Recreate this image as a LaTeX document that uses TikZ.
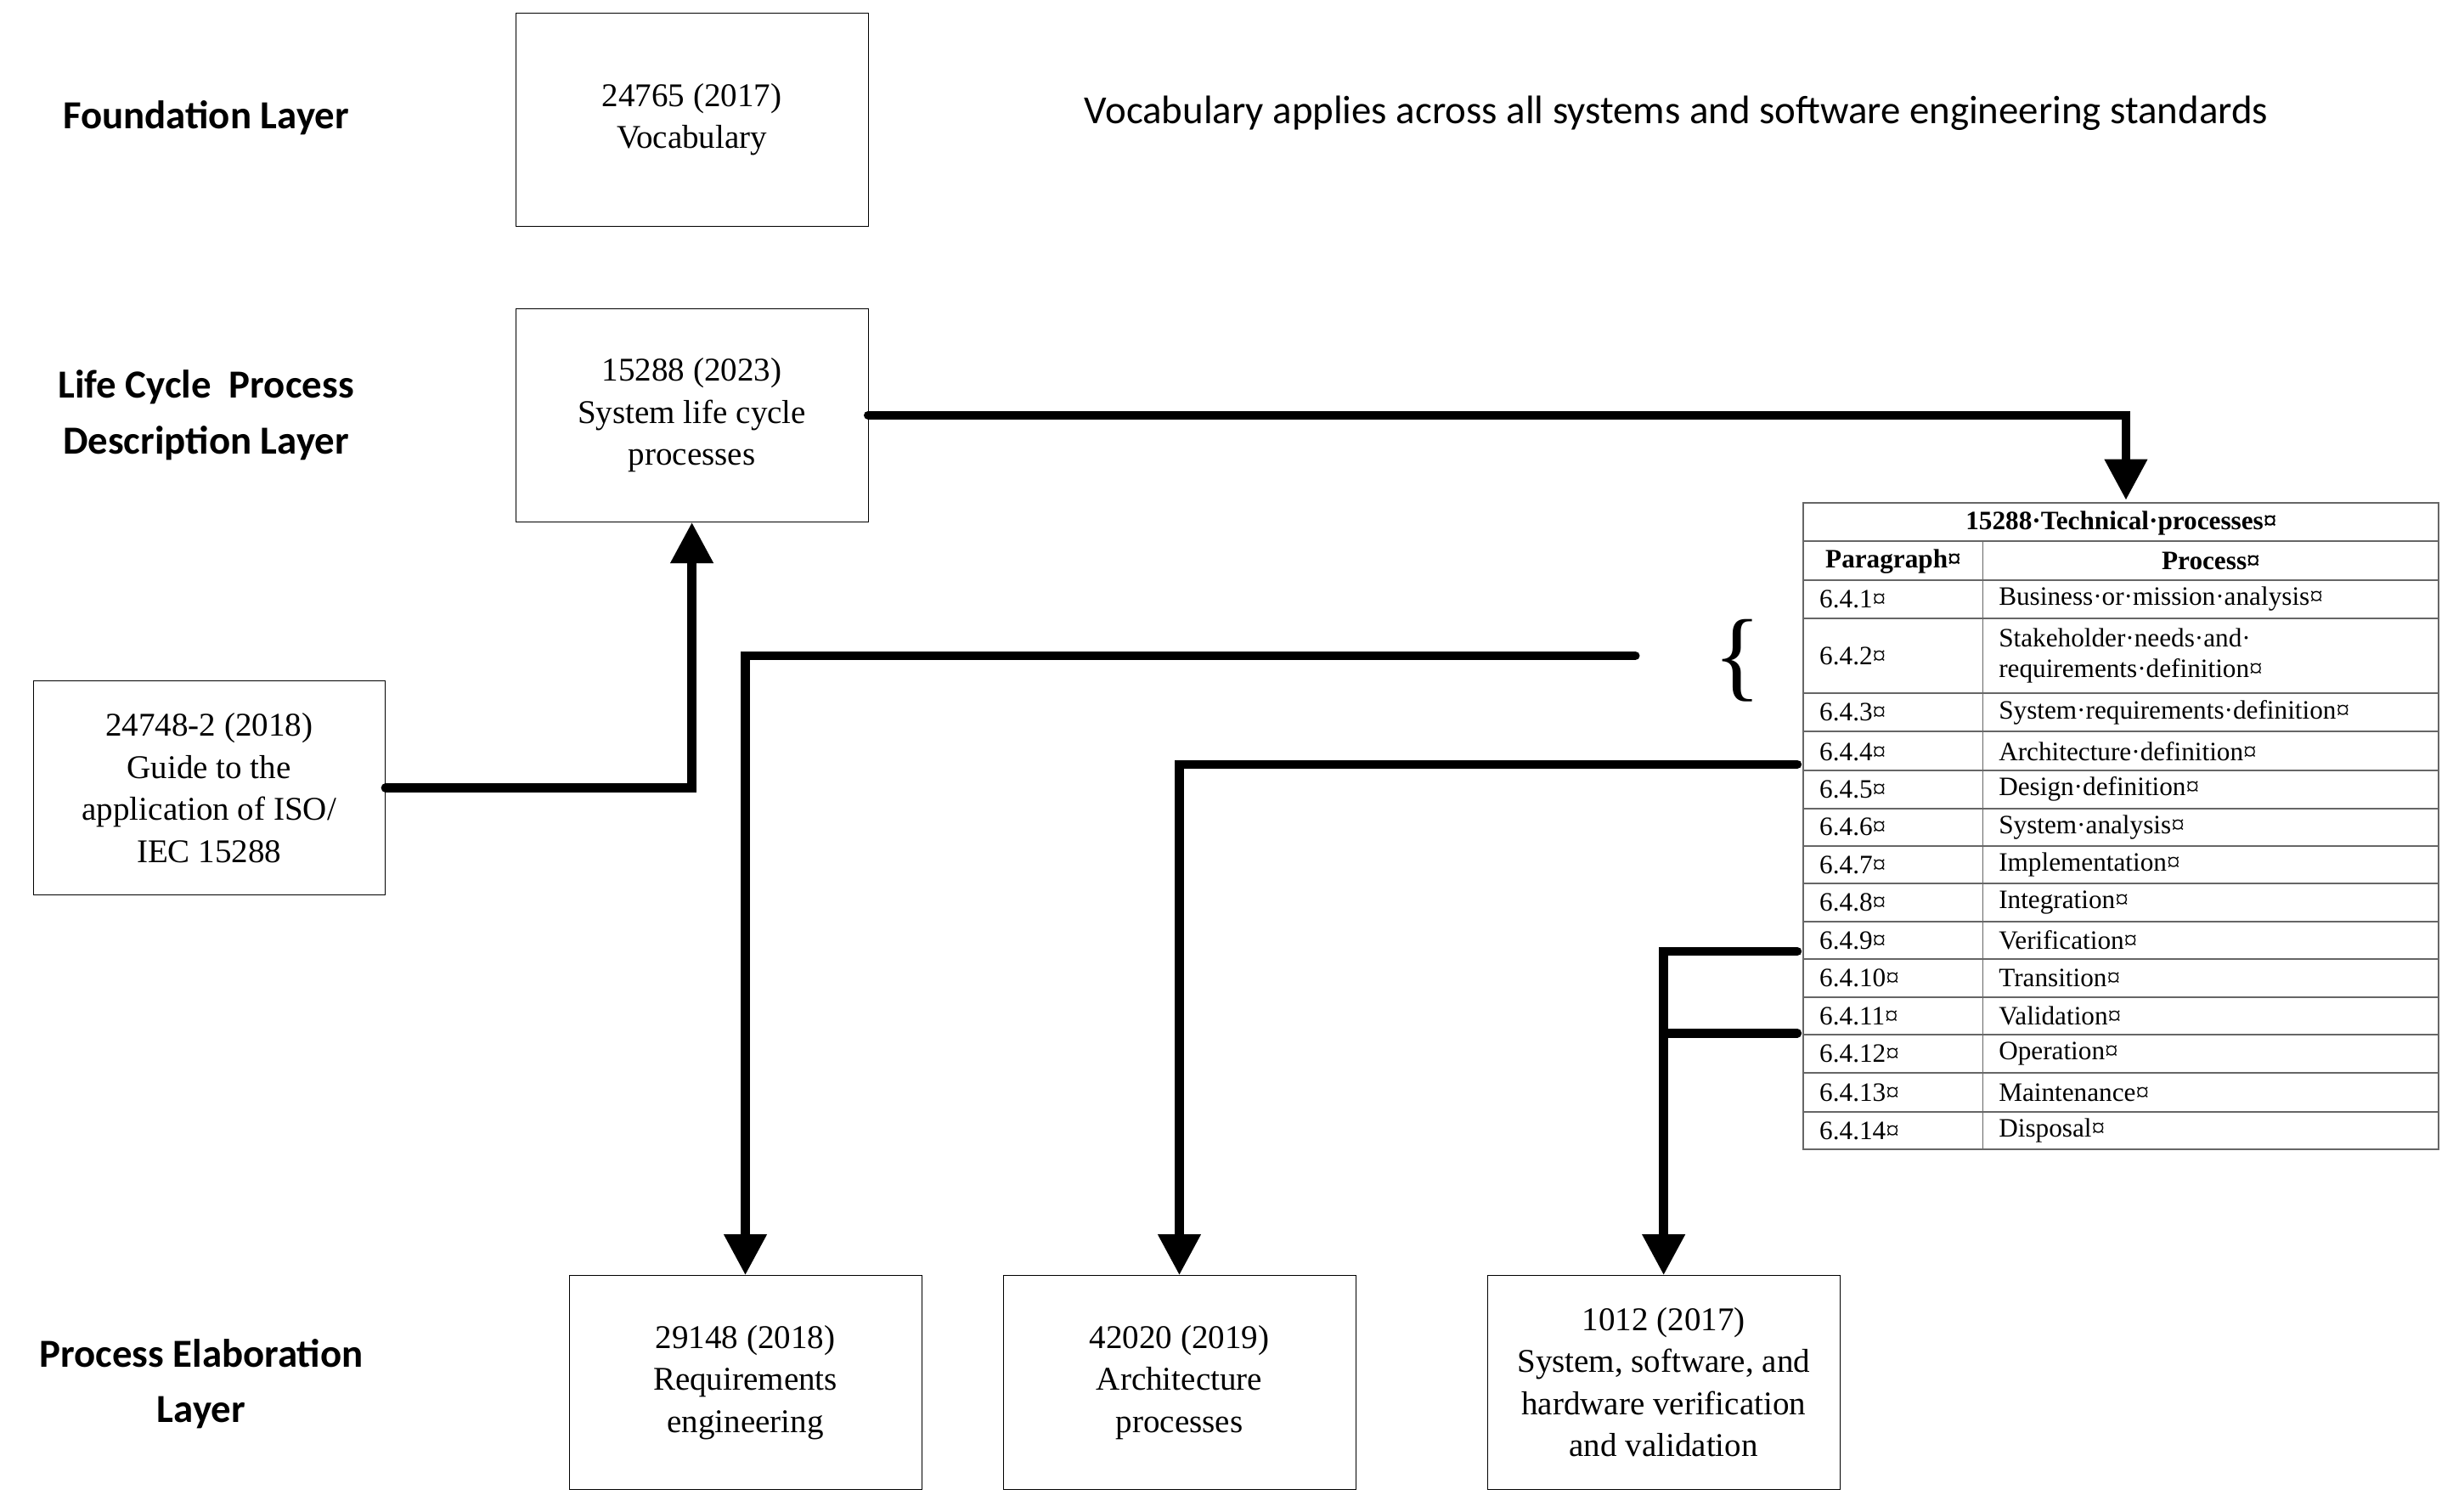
\documentclass[tikz,border=0pt]{standalone}
\usepackage{fontspec}
\setmainfont{Liberation Serif}
\newfontfamily\calfont{Carlito}
\usetikzlibrary{arrows.meta}
\begin{document}
\begin{tikzpicture}[x=0.05cm,y=-0.05cm,
  box/.style={draw,thin,minimum width=11.2cm,minimum height=6.8cm,align=center,font=\fontsize{30}{38}\selectfont,inner sep=0},
  lay/.style={font=\calfont\bfseries\fontsize{36}{50}\selectfont,align=center},
  conn/.style={line width=8pt,line cap=round,line join=miter},
  arr/.style={conn,-{Triangle[length=1.3cm,width=1.3cm]}},
  cell/.style={anchor=west,font=\fontsize{24}{27}\selectfont,inner sep=0,align=left},
  tl/.style={draw=gray!80!black,line width=1.5pt}]
\useasboundingbox (0,0) rectangle (1560,961);
\node[lay] (L1) at (131,75) {Foundation Layer};
\node[lay] (L2) at (131,264) {Life Cycle\ \ Process\\Description Layer};
\node[lay] (L3) at (128,880) {Process Elaboration\\Layer};
\node[font=\calfont\fontsize{36}{44}\selectfont] (note) at (1066,72) {Vocabulary applies across all systems and software engineering standards};
\node[box] (voc) at (440,76) {24765 (2017)\\Vocabulary};
\node[box] (slc) at (440,264) {15288 (2023)\\System life cycle\\processes};
\node[box] (gd) at (133,501) {24748-2 (2018)\\Guide to the\\application of ISO/\\IEC 15288};
\node[box] (req) at (474,879) {29148 (2018)\\Requirements\\engineering};
\node[box] (arc) at (750,879) {42020 (2019)\\Architecture\\processes};
\node[box] (vv) at (1058,879) {1012 (2017)\\System, software, and\\hardware verification\\and validation};
% table
\draw[tl] (1147,320) rectangle (1551,731);
\draw[tl] (1261,344) -- (1261,731);
\foreach \y in {344,369,393,441,465,490,514,538,562,586,610,634,658,682,707} \draw[tl] (1147,\y) -- (1551,\y);
\node[font=\bfseries\fontsize{24}{27}\selectfont,inner sep=0] (tt) at (1349,333) {15288·Technical·processes¤};
\node[font=\bfseries\fontsize{24}{27}\selectfont,inner sep=0] (th1) at (1204,357) {Paragraph¤};
\node[font=\bfseries\fontsize{24}{27}\selectfont,inner sep=0] (th2) at (1406,357) {Process¤};
\foreach \n/\y/\t in {1/381/Business·or·mission·analysis¤,2/417/{Stakeholder·needs·and·\\requirements·definition¤},3/453/System·requirements·definition¤,4/478/Architecture·definition¤,5/502/Design·definition¤,6/526/System·analysis¤,7/550/Implementation¤,8/574/Integration¤,9/598/Verification¤,10/622/Transition¤,11/646/Validation¤,12/670/Operation¤,13/695/Maintenance¤,14/719/Disposal¤}{
  \node[cell] (p\n) at (1157,\y) {6.4.\n¤};
  \node[cell] (q\n) at (1271,\y) {\t};
}
\node[font=\fontsize{90}{90}\selectfont,inner sep=0] (br) at (1105,420) {\{};
% connectors
\coordinate (tin) at (1352,318);
\draw[arr] (slc.east) -| (tin);
\draw[arr] (gd.east) -| (slc.south);
\coordinate (b1) at (1040,417);
\draw[arr] (b1) -| (req.north);
\coordinate (a1) at (1143,486);
\draw[arr] (a1) -| (arc.north);
\coordinate (v1) at (1143,605);
\coordinate (v2) at (1143,657);
\draw[arr] (v1) -| (vv.north);
\draw[conn] (v2) -- (1058,657);
\end{tikzpicture}
\end{document}
